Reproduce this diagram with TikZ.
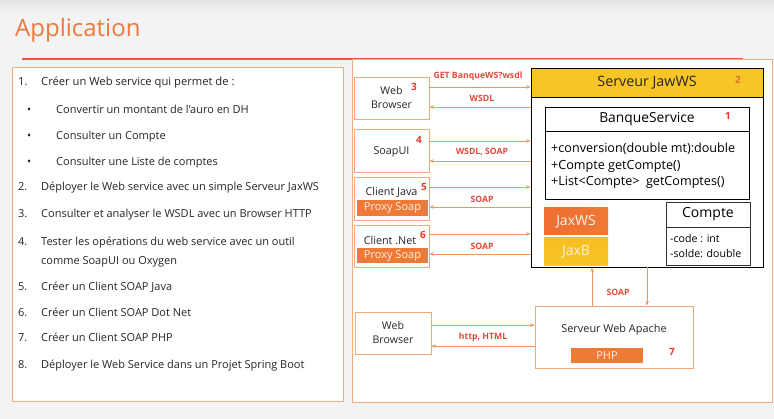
\documentclass[tikz,border=0pt]{standalone}
\usepackage{fontspec}
\setmainfont{Open Sans}
\usetikzlibrary{arrows.meta,calc}
\definecolor{bg}{HTML}{F3F3F3}
\definecolor{bgtop}{HTML}{E4E4E4}
\definecolor{titleor}{HTML}{EB7A3C}
\definecolor{hdrline}{HTML}{E8573D}
\definecolor{panelor}{HTML}{F2AE82}
\definecolor{boxor}{HTML}{F2A878}
\definecolor{arrowor}{HTML}{F0965C}
\definecolor{lblred}{HTML}{E04B3C}
\definecolor{numred}{HTML}{E03A2F}
\definecolor{numor}{HTML}{E0702A}
\definecolor{baror}{HTML}{EE7A36}
\definecolor{yel}{HTML}{F7C525}
\definecolor{txt}{HTML}{262626}
\tikzset{
  panel/.style={draw=panelor, line width=1.2pt, fill=white, inner sep=0pt},
  cbox/.style={draw=boxor, line width=0.9pt, fill=white, inner sep=0pt, align=center,
    font=\fontsize{10.6}{14}\selectfont, text=txt},
  btxt/.style={inner sep=0pt, text=txt, font=\fontsize{10.8}{12}\selectfont},
  bar/.style={fill=baror, text=white!90!baror, inner sep=0pt, font=\fontsize{11}{12}\selectfont},
  blk/.style={draw=black, line width=0.9pt, fill=white, inner sep=0pt},
  arr/.style={draw=arrowor, line width=0.9pt, -{Stealth[length=4.5pt,width=3.5pt]}},
  lbl/.style={text=lblred, inner sep=0pt, font=\bfseries\fontsize{8.7}{10}\selectfont},
  num/.style={text=numred, inner sep=0pt, font=\bfseries\fontsize{10}{12}\selectfont},
  litem/.style={anchor=mid west, inner sep=0pt, text=txt, font=\fontsize{11}{13}\selectfont},
  lbig/.style={anchor=mid west, inner sep=0pt, text=txt, font=\fontsize{11.2}{14}\selectfont},
}
\begin{document}
\begin{tikzpicture}[x=1pt,y=-1pt]
\useasboundingbox (0,0) rectangle (774,419);
\fill[bg] (0,0) rectangle (774,419);
\shade[top color=bgtop, bottom color=bg] (0,0) rectangle (774,12);
% title
\node[anchor=base west, inner sep=0pt, text=titleor, font=\fontsize{24}{28}\selectfont] (title) at (15,37) {Application};
\coordinate (hl1) at (22,59);
\coordinate (hl2) at (743,59);
\draw[hdrline, line width=1.3pt] (hl1) -- (hl2);
% panels
\node[panel, anchor=north west, minimum width=331pt, minimum height=334pt] (left) at (12,67) {};
\node[panel, anchor=north west, minimum width=420pt, minimum height=343pt] (right) at (352,59) {};
% list
\node[lbig] (n1) at (18,83) {1.};
\node[lbig] (t1) at (41,83) {Créer un Web service qui permet de :};
\node[litem] (b1) at (27,111) {•};
\node[litem] (s1) at (56,111) {Convertir un montant de l’auro en DH};
\node[litem] (b2) at (27,137) {•};
\node[litem] (s2) at (56,137) {Consulter un Compte};
\node[litem] (b3) at (27,163) {•};
\node[litem] (s3) at (56,163) {Consulter une Liste de comptes};
\node[litem] (n2) at (18,188) {2.};
\node[litem] (t2) at (41,188) {Déployer le Web service avec un simple Serveur JaxWS};
\node[litem] (n3) at (18,215) {3.};
\node[litem] (t3) at (41,215) {Consulter et analyser le WSDL avec un Browser HTTP};
\node[litem] (n4) at (18,243) {4.};
\node[litem] (t4) at (41,243) {Tester les opérations du web service avec un outil};
\node[litem] (t4b) at (41,262) {comme SoapUI ou Oxygen};
\node[litem] (n5) at (18,288) {5.};
\node[litem] (t5) at (41,288) {Créer un Client SOAP Java};
\node[litem] (n6) at (18,314) {6.};
\node[litem] (t6) at (41,314) {Créer un Client SOAP Dot Net};
\node[litem] (n7) at (18,339) {7.};
\node[litem] (t7) at (41,339) {Créer un Client SOAP PHP};
\node[litem] (n8) at (18,366) {8.};
\node[litem] (t8) at (41,366) {Déployer le Web Service dans un Projet Spring Boot};
% clients
\node[cbox, minimum width=75pt, minimum height=42pt] (wb1) at (391.5,98) {Web\\Browser};
\node[num] (k3) at (414,87) {3};
\node[cbox, minimum width=75pt, minimum height=43pt] (sui) at (391.5,150.5) {};
\node[btxt] (suit) at (391.5,152) {SoapUI};
\node[num] (k4) at (419,140) {4};
\node[cbox, minimum width=75pt, minimum height=43pt] (cj) at (391.5,198.5) {};
\node[btxt] (cjt) at (391.5,192) {Client Java};
\node[num] (k5) at (424,187) {5};
\node[bar, minimum width=71pt, minimum height=16pt] (pj) at (392.5,208) {Proxy Soap};
\node[cbox, minimum width=75pt, minimum height=42pt] (cn) at (391.5,246) {};
\node[btxt] (cnt) at (390,240) {Client .Net};
\node[num] (k6) at (423,235) {6};
\node[bar, minimum width=71pt, minimum height=15pt] (pn) at (392.5,255.5) {Proxy Soap};
% server
\node[blk, minimum width=232pt, minimum height=199pt] (srv) at (647,167.5) {};
\node[blk, fill=yel, anchor=north, minimum width=232pt, minimum height=29pt, font=\fontsize{14.3}{16}\selectfont, text=txt] (srvh) at (srv.north) {Serveur JawWS};
\node[text=numor, inner sep=0pt, font=\bfseries\fontsize{10}{12}\selectfont] (k2) at (738,80) {2};
\node[blk, minimum width=204pt, minimum height=92pt] (bq) at (647,153) {};
\node[blk, anchor=north, minimum width=204pt, minimum height=24pt, font=\fontsize{13.8}{15}\selectfont, text=black] (bqh) at (bq.north) {BanqueService};
\node[num] (k1) at (728,116) {1};
\node[anchor=west, inner sep=0pt, align=left, text=black, font=\fontsize{12.6}{16.5}\selectfont] (meth) at (551,166) {+conversion(double mt):double\\+Compte getCompte()\\+List<Compte> \ getComptes()};
\node[inner sep=0pt, minimum width=64pt, minimum height=27pt, left color=baror!90!red, right color=baror, text=white!92!baror, font=\fontsize{14}{16}\selectfont] (jws) at (576,221.5) {JaxWS};
\node[inner sep=0pt, minimum width=64pt, minimum height=28pt, top color=yel!90!orange, bottom color=yel, text=white!80!yel, font=\fontsize{14}{16}\selectfont] (jb) at (576,252) {JaxB};
\node[blk, draw=black!80, minimum width=84pt, minimum height=63pt] (cpt) at (708,233.5) {};
\node[blk, draw=black!80, anchor=north, minimum width=84pt, minimum height=25pt, font=\fontsize{14}{15}\selectfont, text=black] (cpth) at (cpt.north) {Compte};
\node[anchor=west, inner sep=0pt, align=left, text=black, font=\fontsize{10.6}{15}\selectfont] (attr) at (670,246) {-code : int\\-solde: double};
% bottom
\node[cbox, minimum width=76pt, minimum height=42pt] (wb2) at (393,333) {Web\\Browser};
\node[cbox, minimum width=158pt, minimum height=62pt] (ap) at (614,337) {};
\node[btxt, font=\fontsize{10.9}{12}\selectfont] (apt) at (614,330) {Serveur Web Apache};
\node[bar, minimum width=72pt, minimum height=15pt, font=\fontsize{11}{12}\selectfont] (php) at (607,355.5) {PHP};
\node[num] (k7) at (672,352) {7};
% arrows
\path ($(wb1.east)+(0,-11)$) coordinate (a1) ($(wb1.east)+(0,9)$) coordinate (r1);
\draw[arr] (a1) -- (a1 -| srv.west);
\draw[arr] (r1 -| srv.west) -- (r1);
\path ($(sui.east)+(0,-9.5)$) coordinate (a2) ($(sui.east)+(0,10.5)$) coordinate (r2);
\draw[arr] (a2) -- (a2 -| srv.west);
\draw[arr] (r2 -| srv.west) -- (r2);
\path ($(cj.east)+(0,-11.5)$) coordinate (a3) ($(cj.east)+(0,8.5)$) coordinate (r3);
\draw[arr] (a3) -- (a3 -| srv.west);
\draw[arr] (r3 -| srv.west) -- (r3);
\path ($(cn.east)+(0,-12)$) coordinate (a4) ($(cn.east)+(0,8)$) coordinate (r4);
\draw[arr] (a4) -- (a4 -| srv.west);
\draw[arr] (r4 -| srv.west) -- (r4);
\path ($(wb2.east)+(0,-8)$) coordinate (a5) ($(wb2.east)+(0,13)$) coordinate (r5);
\draw[arr] (a5) -- (a5 -| ap.west);
\draw[arr] (r5 -| ap.west) -- (r5);
\path ($(ap.north)+(-22,0)$) coordinate (v1) ($(ap.north)+(33,0)$) coordinate (v2);
\draw[arr] (v1) -- (v1 |- srv.south);
\draw[arr] (v2 |- srv.south) -- (v2);
% labels
\node[lbl] (l1) at (478,76) {GET BanqueWS?wsdl};
\node[lbl] (l2) at (482,98) {WSDL};
\node[lbl] (l3) at (482,152) {WSDL, SOAP};
\node[lbl] (l4) at (482,199) {SOAP};
\node[lbl] (l5) at (482,246) {SOAP};
\node[lbl] (l6) at (483,337) {http, HTML};
\node[lbl] (l7) at (618,292) {SOAP};
\end{tikzpicture}
\end{document}
